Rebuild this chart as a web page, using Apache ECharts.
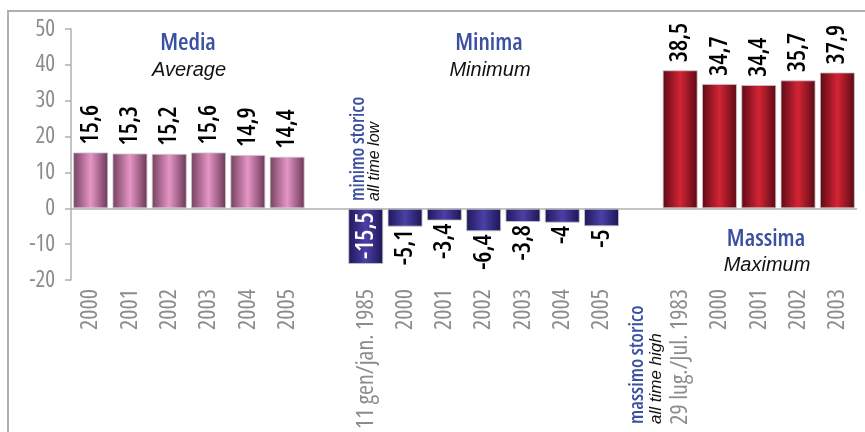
<!DOCTYPE html>
<html>
<head>
<meta charset="utf-8">
<script src="https://cdn.jsdelivr.net/npm/echarts@6/dist/echarts.min.js"></script>
<style>
html, body { margin: 0; padding: 0; background: #fff; }
#main { width: 865px; height: 432px; }
</style>
</head>
<body>
<div id="main"></div>
<script>
var categories = ['2000', '2001', '2002', '2003', '2004', '2005', '',
    '11 gen/jan. 1985', '2000', '2001', '2002', '2003', '2004', '2005', '',
    '29 lug./Jul. 1983', '2000', '2001', '2002', '2003']
var mediaValues = [15.6, 15.3, 15.2, 15.6, 14.9, 14.4]
var minimaValues = [-15.5, -5.1, -3.4, -6.4, -3.8, -4, -5]
var massimaValues = [38.5, 34.7, 34.4, 35.7, 37.9]
var mediaStart = 0, minimaStart = 7, massimaStart = 15
var yTicks = [-20, -10, 0, 10, 20, 30, 40, 50]

// Open Sans is variable, 'condensed' in the font string narrows it
var cond = '"Open Sans", sans-serif'
var plain = '"Liberation Sans", Arial, sans-serif'

function fmt(v) { return String(v).replace('.', ',') }

// put a group's values at its own place on the shared category axis
function place(values, start, inside) {
    var out = categories.map(function () { return '-' })
    values.forEach(function (v, i) {
        var lab
        if (inside && i === 0) {
            lab = { position: 'insideTop', align: 'right', distance: 4, color: '#fff' }
        } else if (v >= 0) {
            lab = { position: 'top', align: 'left', distance: 8 }
        } else {
            lab = { position: 'bottom', align: 'right', distance: 3 }
        }
        out[start + i] = { value: v, label: lab }
    })
    return out
}

function barGrad(edge, mid, edge2) {
    return new echarts.graphic.LinearGradient(0, 0, 1, 0, [
        { offset: 0, color: edge },
        { offset: 0.5, color: mid },
        { offset: 1, color: edge2 }
    ])
}

var valueLabel = {
    show: true,
    rotate: 90,
    verticalAlign: 'middle',
    fontFamily: cond,
    fontWeight: '600 condensed',
    fontSize: 25,
    color: '#000',
    formatter: function (p) { return fmt(p.value) }
}

var chart = echarts.init(document.getElementById('main'))

chart.setOption({
    animation: false,
    grid: { left: 71, right: 8, top: 29, bottom: 151 },
    xAxis: {
        type: 'category',
        data: categories,
        axisLine: { show: false, onZero: false },
        axisTick: { show: false },
        axisLabel: {
            interval: 0,
            rotate: 90,
            margin: 9,
            color: '#8c8c8c',
            fontFamily: cond,
            fontWeight: 'condensed',
            fontSize: 24
        }
    },
    yAxis: {
        type: 'value',
        min: yTicks[0],
        max: yTicks[yTicks.length - 1],
        interval: 10,
        axisLine: { show: true, lineStyle: { color: '#b0b0b0', width: 1.5 } },
        axisTick: { show: true, length: 6, lineStyle: { color: '#b0b0b0', width: 1.5 } },
        axisLabel: { margin: 16, color: '#8c8c8c', fontFamily: cond, fontWeight: 'condensed', fontSize: 23 },
        splitLine: { show: false }
    },
    series: [{
        name: 'Media',
        type: 'bar',
        barWidth: 35,
        barGap: '-100%',
        data: place(mediaValues, mediaStart, false),
        itemStyle: {
            color: barGrad('#74405f', '#e596c6', '#6a3656'),
            borderColor: 'rgba(200,200,200,0.8)',
            borderWidth: 1
        },
        label: valueLabel,
        markLine: {
            silent: true,
            symbol: 'none',
            label: { show: false },
            lineStyle: { color: '#b0b0b0', width: 1.5, type: 'solid' },
            data: [{ yAxis: 0 }]
        }
    }, {
        name: 'Minima',
        type: 'bar',
        barWidth: 35,
        barGap: '-100%',
        data: place(minimaValues, minimaStart, true),
        itemStyle: {
            color: barGrad('#1f175c', '#4a40a6', '#1c1556'),
            borderColor: 'rgba(200,200,200,0.8)',
            borderWidth: 1
        },
        label: valueLabel
    }, {
        name: 'Massima',
        type: 'bar',
        barWidth: 35,
        barGap: '-100%',
        data: place(massimaValues, massimaStart, false),
        itemStyle: {
            color: barGrad('#5c0a15', '#d42434', '#5a0a14'),
            borderColor: 'rgba(200,200,200,0.8)',
            borderWidth: 1
        },
        label: valueLabel
    }],
    graphic: [
        { type: 'polyline', shape: { points: [[8, 432], [8, 11], [865, 11]] },
          style: { stroke: '#b5ada8', lineWidth: 2, fill: null } },
        { type: 'text', x: 188, y: 43, style: { text: 'Media', fill: '#3b50a0', font: '600 condensed 24px ' + cond, align: 'center', verticalAlign: 'middle' } },
        { type: 'text', x: 189, y: 70, style: { text: 'Average', fill: '#111', font: 'italic 20px ' + plain, align: 'center', verticalAlign: 'middle' } },
        { type: 'text', x: 489, y: 43, style: { text: 'Minima', fill: '#3b50a0', font: '600 condensed 24px ' + cond, align: 'center', verticalAlign: 'middle' } },
        { type: 'text', x: 490, y: 70, style: { text: 'Minimum', fill: '#111', font: 'italic 20px ' + plain, align: 'center', verticalAlign: 'middle' } },
        { type: 'text', x: 766, y: 239, style: { text: 'Massima', fill: '#3b50a0', font: '600 condensed 24px ' + cond, align: 'center', verticalAlign: 'middle' } },
        { type: 'text', x: 767, y: 265, style: { text: 'Maximum', fill: '#111', font: 'italic 20px ' + plain, align: 'center', verticalAlign: 'middle' } },
        { type: 'text', x: 359, y: 201, rotation: Math.PI / 2, style: { text: 'minimo storico', fill: '#3b50a0', font: '600 condensed 19px ' + cond, align: 'left', verticalAlign: 'middle' } },
        { type: 'text', x: 375, y: 201, rotation: Math.PI / 2, style: { text: 'all time low', fill: '#111', font: 'italic 16px ' + plain, align: 'left', verticalAlign: 'middle' } },
        { type: 'text', x: 637, y: 424, rotation: Math.PI / 2, style: { text: 'massimo storico', fill: '#3b50a0', font: '600 condensed 20px ' + cond, align: 'left', verticalAlign: 'middle' } },
        { type: 'text', x: 656, y: 424, rotation: Math.PI / 2, style: { text: 'all time high', fill: '#111', font: 'italic 17px ' + plain, align: 'left', verticalAlign: 'middle' } }
    ]
})
</script>
</body>
</html>
